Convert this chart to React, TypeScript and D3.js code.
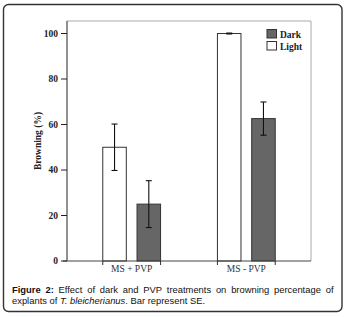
import React, { useEffect, useRef } from "react";
import * as d3 from "d3";

const categories = ["MS + PVP", "MS - PVP"];
const seriesNames = ["Light", "Dark"];
const lightValues = [50, 100];
const lightErrors = [10.2, 0.2];
const darkValues = [25, 62.6];
const darkErrors = [10.3, 7.3];
const yTicks = [0, 20, 40, 60, 80, 100];
const yLabel = "Browning (%)";
const legendItems = ["Dark", "Light"];
const captionLine1 = [
  { t: "Figure", b: true },
  { t: "2:", b: true },
  { t: "Effect" }, { t: "of" }, { t: "dark" }, { t: "and" }, { t: "PVP" },
  { t: "treatments" }, { t: "on" }, { t: "browning" }, { t: "percentage" }, { t: "of" },
];

const W = 346, H = 317;
const plotL = 67, plotR = 311, plotT = 21, plotB = 261;
const darkFill = "#666666";
const serif = "'Liberation Serif', 'Times New Roman', serif";
const sans = "'Liberation Sans', Arial, sans-serif";

export default function App() {
  const capRef = useRef<SVGGElement>(null);

  const y = d3.scaleLinear().domain([0, 105.5]).range([plotB, plotT]);
  const xg = d3.scalePoint<string>().domain(categories).range([plotL, plotR]).padding(0.564);
  const groupW = 57.8;
  const xs = d3.scaleBand<string>().domain(seriesNames).range([-groupW / 2, groupW / 2]).paddingInner(0.313);

  const series = [
    { name: "Light", values: lightValues, errs: lightErrors, fill: "#ffffff" },
    { name: "Dark", values: darkValues, errs: darkErrors, fill: darkFill },
  ];

  useEffect(() => {
    const g = d3.select(capRef.current);
    const nodes = g.selectAll<SVGTextElement, unknown>("text.w").nodes();
    const widths = nodes.map((n) => n.getComputedTextLength());
    const x0 = 12, x1 = 333.5;
    const total = widths.reduce((a, b) => a + b, 0);
    const gap = (x1 - x0 - total) / (nodes.length - 1);
    let x = x0;
    nodes.forEach((n, i) => {
      n.setAttribute("x", String(x));
      x += widths[i] + gap;
    });
  }, []);

  return (
    <svg width={W} height={H} style={{ position: "absolute", left: 0, top: 0, background: "#fff" }}>
      <rect x={3.5} y={4.5} width={338.5} height={307} rx={5} fill="#fff" stroke="#333" strokeWidth={1.4} />
      {/* plot frame */}
      <line x1={plotL} x2={plotR} y1={plotT} y2={plotT} stroke="#aaa" strokeWidth={1} />
      <line x1={plotR} x2={plotR} y1={plotT} y2={plotB} stroke="#aaa" strokeWidth={1} />
      {/* bars */}
      {series.map((s) =>
        categories.map((c, i) => {
          const x = (xg(c) as number) + (xs(s.name) as number);
          const bw = xs.bandwidth();
          const v = s.values[i];
          const e = s.errs[i];
          const cx = x + bw / 2;
          return (
            <g key={s.name + c}>
              <rect x={x} y={y(v)} width={bw} height={y(0) - y(v)} fill={s.fill} stroke="#333" strokeWidth={1} />
              <line x1={cx} x2={cx} y1={y(v + e)} y2={y(v - e)} stroke="#111" strokeWidth={1.1} />
              <line x1={cx - 3} x2={cx + 3} y1={y(v + e)} y2={y(v + e)} stroke="#111" strokeWidth={1.1} />
              <line x1={cx - 3} x2={cx + 3} y1={y(v - e)} y2={y(v - e)} stroke="#111" strokeWidth={1.1} />
            </g>
          );
        })
      )}
      {/* axes */}
      <line x1={plotL} x2={plotL} y1={plotT} y2={plotB} stroke="#222" strokeWidth={1} />
      <line x1={plotL - 4} x2={plotR} y1={plotB} y2={plotB} stroke="#444" strokeWidth={1} />
      {yTicks.map((t) => (
        <g key={t}>
          <line x1={plotL - 6} x2={plotL} y1={y(t)} y2={y(t)} stroke="#222" strokeWidth={1} />
          <text x={plotL - 9} y={y(t) + 3} textAnchor="end" fontFamily={serif} fontWeight="bold" fontSize={9.5} fill="#222">
            {t}
          </text>
        </g>
      ))}
      {categories.map((c) => {
        const cx = xg(c) as number;
        return (
          <g key={c}>
            <line x1={cx - groupW / 2} x2={cx - groupW / 2} y1={plotB} y2={plotB + 4} stroke="#333" />
            <line x1={cx + groupW / 2} x2={cx + groupW / 2} y1={plotB} y2={plotB + 4} stroke="#333" />
            <text x={cx} y={271.5} textAnchor="middle" fontFamily={serif} fontSize={9.5} fill="#333">
              {c}
            </text>
          </g>
        );
      })}
      <text transform={`translate(40.5,${(plotT + plotB) / 2}) rotate(-90)`} textAnchor="middle" fontFamily={serif} fontWeight="bold" fontSize={9.5} fill="#222">
        {yLabel}
      </text>
      {/* legend */}
      {legendItems.map((l, i) => (
        <g key={l} transform={`translate(267,${29.5 + i * 12})`}>
          <rect x={0} y={0} width={9.5} height={8.5} fill={l === "Dark" ? darkFill : "#fff"} stroke="#333" strokeWidth={1} />
          <text x={13} y={8} fontFamily={serif} fontWeight="bold" fontSize={9.5} fill="#222">
            {l}
          </text>
        </g>
      ))}
      {/* caption */}
      <g ref={capRef}>
        {captionLine1.map((w, i) => (
          <text key={i} className="w" x={12} y={292.5} fontFamily={sans} fontSize={9.4} fontWeight={w.b ? "bold" : "normal"} fill="#111">
            {w.t}
          </text>
        ))}
      </g>
      <text x={12} y={304} fontFamily={sans} fontSize={9.4} fill="#111">
        explants of <tspan fontStyle="italic">T. bleicherianus</tspan>. Bar represent SE.
      </text>
    </svg>
  );
}
